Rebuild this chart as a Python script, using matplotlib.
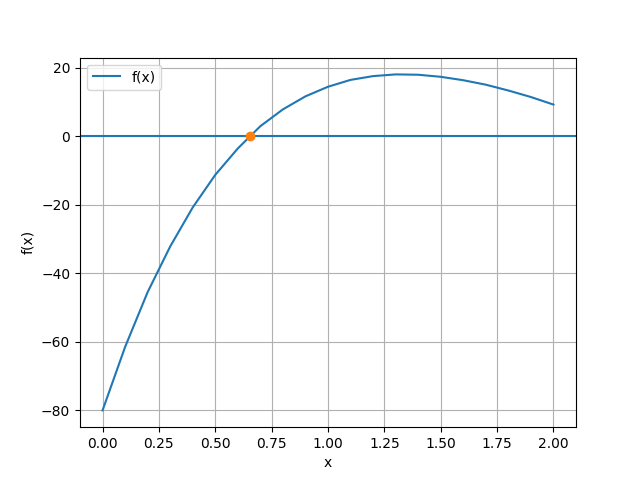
import matplotlib
matplotlib.use("Agg")
import matplotlib.pyplot as plt

x_vals = [0.0, 0.1, 0.2, 0.3, 0.4, 0.5, 0.6, 0.7, 0.8, 0.9, 1.0,
          1.1, 1.2, 1.3, 1.4, 1.5, 1.6, 1.7, 1.8, 1.9, 2.0]
f_vals = [-80.0, -61.5, -45.5, -32.2, -20.8, -11.3, -3.6, 2.9, 7.8, 11.6, 14.4,
          16.4, 17.5, 18.0, 17.9, 17.3, 16.3, 15.0, 13.3, 11.4, 9.2]
root_x = [0.653]
root_y = [0.0]

fig, ax = plt.subplots(figsize=(6.4, 4.8), dpi=100)
ax.plot(x_vals, f_vals, label="f(x)")
ax.axhline(0)
ax.plot(root_x, root_y, "o")
ax.set_xlabel("x")
ax.set_ylabel("f(x)")
ax.grid(True)
ax.legend(loc="upper left")
fig.savefig("out.png")
